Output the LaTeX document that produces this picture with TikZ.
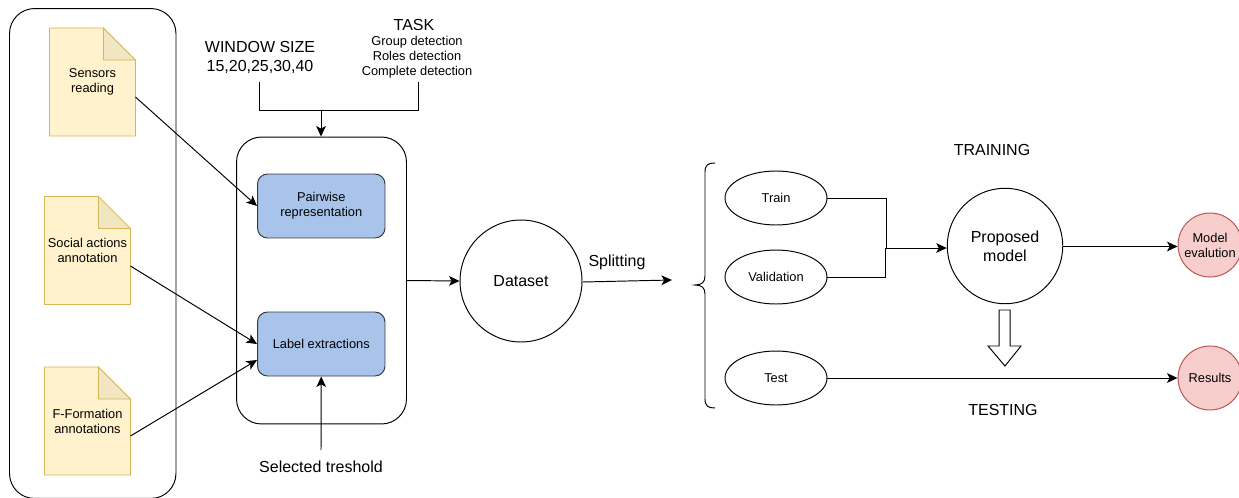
\documentclass[tikz,border=0pt]{standalone}
\usepackage{fontspec}
\setmainfont{Liberation Sans}
\usetikzlibrary{arrows.meta,calc,backgrounds,shapes.geometric}
\definecolor{docfill}{HTML}{FFF2CC}
\definecolor{docline}{HTML}{D6B656}
\definecolor{docfold}{HTML}{F0E6C2}
\definecolor{blockfill}{HTML}{A9C4EB}
\definecolor{blockline}{HTML}{36393D}
\definecolor{resfill}{HTML}{F8CECC}
\definecolor{resline}{HTML}{B85450}
\tikzstyle{doc}=[rectangle, minimum width=1.7cm, minimum height=2.14cm, inner sep=0pt, align=center, font=\fontsize{7.3}{8.5}\selectfont]
\tikzstyle{panel}=[rectangle, draw=black, rounded corners=0.5cm, inner sep=0pt]
\tikzstyle{block}=[rectangle, draw=blockline, fill=blockfill, rounded corners=0.2cm, minimum width=2.55cm, minimum height=1.28cm, inner sep=0pt, align=center, font=\fontsize{7.3}{8.5}\selectfont]
\tikzstyle{split}=[ellipse, draw=black, minimum width=2.04cm, minimum height=1.08cm, inner sep=0pt, font=\fontsize{7.3}{8.5}\selectfont]
\tikzstyle{big}=[circle, draw=black, inner sep=0pt, align=center, font=\fontsize{9.1}{10.8}\selectfont]
\tikzstyle{res}=[circle, draw=resline, fill=resfill, minimum size=1.28cm, inner sep=0pt, align=center, font=\fontsize{7.3}{8.5}\selectfont]
\tikzstyle{annot}=[align=center, inner sep=0pt, font=\fontsize{9.1}{10.8}\selectfont]
\tikzstyle{link}=[-{Stealth[length=6pt,width=5.5pt,inset=1.5pt]}]
\newcommand{\drawdoc}[4]
{
  \node[doc](#1) at (#2,#3){#4};
  \begin{scope}[on background layer]
    \draw[docline, fill=docfill] (#1.north west) -- ($(#1.north east)+(-32,0)$) -- ($(#1.north east)+(0,32)$) -- (#1.south east) -- (#1.south west) -- cycle;
    \draw[docline, fill=docfold] ($(#1.north east)+(-32,0)$) -- ($(#1.north east)+(0,32)$) -- ($(#1.north east)+(-32,32)$) -- cycle;
  \end{scope}
}
\begin{document}
\begin{tikzpicture}[x=0.02cm, y=-0.02cm, line width=0.55pt]
	\clip (0,0) rectangle (1239,497);

	\node[panel, minimum width=3.33cm, minimum height=9.8cm](sources) at (92.75,253.5){};
	\drawdoc{sensors}{92.5}{82}{Sensors\\reading}
	\drawdoc{social}{87.5}{250.5}{Social actions\\annotation}
	\drawdoc{fform}{87.5}{421}{F-Formation\\annotations}

	\node[panel, minimum width=3.4cm, minimum height=5.74cm](prep) at (321.5,280.5){};
	\node[block](pairwise) at (321.25,206){Pairwise\\representation};
	\node[block](labels) at (321.25,344){Label extractions};

	\node[annot](window) at (260,57){WINDOW SIZE\\15,20,25,30,40};
	\node[annot](task) at (414,25){TASK};
	\node[annot, font=\fontsize{7.3}{8.5}\selectfont](tasks) at (417,57.5){Group detection\\Roles detection\\Complete detection};
	\node[annot](threshold) at (321,467){Selected treshold};

	\coordinate (wfoot) at (259,82);
	\coordinate (tfoot) at (418,82);
	\coordinate (join) at (321,110);
	\coordinate (tstart) at (321,450);
	\draw (wfoot) |- (tfoot |- join) -- (tfoot);
	\draw[link] (join) -- (join |- prep.north);
	\draw[link] (tstart) -- (labels.south);

	\draw[link] ($(sensors.east)+(0,15)$) -- (pairwise.west);
	\draw[link] ($(social.east)+(0,15.5)$) -- (labels.west);
	\draw[link] ($(fform.east)+(0,15)$) -- ($(labels.west)+(0,16)$);

	\node[big, minimum size=2.44cm](dataset) at (521,281){Dataset};
	\draw[link] (prep.east) -- (dataset.west);

	\node[annot](splitting) at (617,262){Splitting};
	\coordinate (splitend) at (672,280);
	\draw[link] ($(dataset.east)+(0,1)$) -- (splitend);

	\draw (715,163) .. controls (708,163) and (705,165) .. (705,172) -- (705,276) .. controls (705,282) and (702,285) .. (695,285) .. controls (702,285) and (705,288) .. (705,294) -- (705,399) .. controls (705,406) and (708,408) .. (715,408);

	\node[split](train) at (776,198){Train};
	\node[split](validation) at (776,277){Validation};
	\node[split](test) at (776,378){Test};

	\node[big, minimum size=2.31cm](model) at (1005,246){Proposed\\model};
	\node[res](evaluation) at (1210,245){Model\\evalution};
	\node[res](results) at (1210,378){Results};

	\coordinate (trainbend) at (886.5,248);
	\coordinate (validbend) at (885,248);
	\draw (train.east) -| (trainbend);
	\draw (validation.east) -| (validbend);
	\draw[link] (validbend) -- (model.west |- validbend);
	\draw[link] ($(model.east)+(0,0.5)$) -- ($(evaluation.west)+(0,1.5)$);
	\draw[link] (test.east) -- (results.west);

	\draw[fill=white] (999,310) -- (1010,310) -- (1010,346) -- (1021,346) -- (1005,366) -- (988,346) -- (999,346) -- cycle;

	\node[annot](training) at (992,150){TRAINING};
	\node[annot](testing) at (1003,410){TESTING};
\end{tikzpicture}
\end{document}
